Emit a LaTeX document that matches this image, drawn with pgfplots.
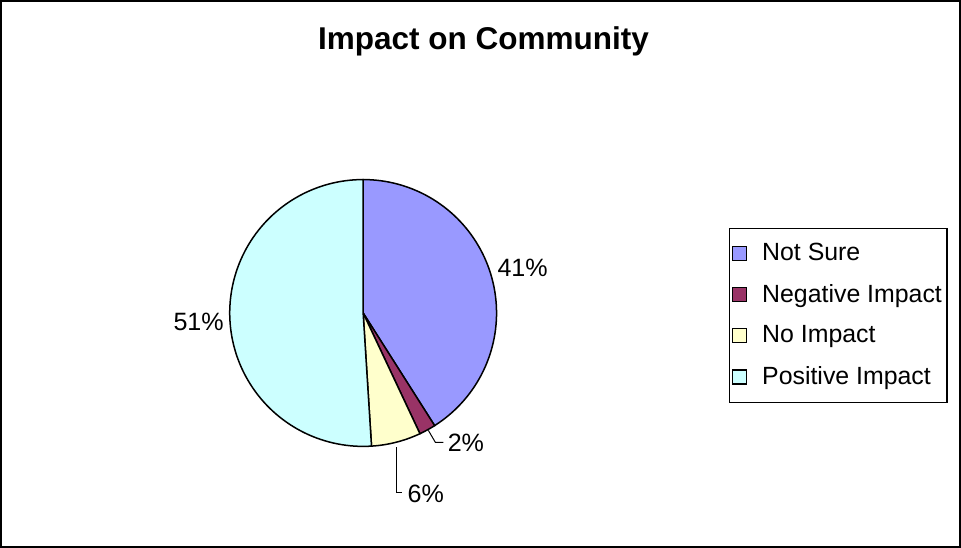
\documentclass[border=0pt]{standalone}
\usepackage{fontspec}
\setmainfont{Liberation Sans}
\usepackage{pgfplots}
\usepackage{pgfplotstable}
\pgfplotsset{compat=1.18}
\definecolor{cNS}{HTML}{9999FF}
\definecolor{cNeg}{HTML}{993366}
\definecolor{cNo}{HTML}{FFFFCC}
\definecolor{cPos}{HTML}{CCFFFF}
\pgfplotstableread{
value
41
2
6
51
}\pietable
\begin{document}
\begin{tikzpicture}
\pgfplotstablegetelem{0}{value}\of\pietable \pgfmathsetmacro{\vA}{\pgfplotsretval}
\pgfplotstablegetelem{1}{value}\of\pietable \pgfmathsetmacro{\vB}{\pgfplotsretval}
\pgfplotstablegetelem{2}{value}\of\pietable \pgfmathsetmacro{\vC}{\pgfplotsretval}
\pgfplotstablegetelem{3}{value}\of\pietable \pgfmathsetmacro{\vD}{\pgfplotsretval}
\pgfmathsetmacro{\aA}{0}
\pgfmathsetmacro{\bA}{3.6*\vA}
\pgfmathsetmacro{\bB}{\bA+3.6*\vB}
\pgfmathsetmacro{\bC}{\bB+3.6*\vC}
\pgfmathsetmacro{\bD}{\bC+3.6*\vD}
\begin{axis}[
  width=480.5pt, height=274pt, scale only axis,
  xmin=0, xmax=961, ymin=0, ymax=548,
  hide axis, clip=false,
  legend style={at={(axis cs:728,320)}, anchor=north west, draw=black, line width=0.6pt,
    font=\fontsize{12.4}{15}\selectfont, inner xsep=1pt, inner ysep=6.3pt,
    row sep=8.3pt, nodes={inner xsep=1.5pt, inner ysep=1pt},
    /tikz/every odd column/.append style={column sep=6pt}},
  legend cell align=left,
  legend image code/.code={\draw[#1, line width=0.6pt] (0pt,-3.5pt) rectangle (7pt,3.5pt);},
]
\addplot[fill=cNS, draw=black, line width=0.75pt, domain=\aA:\bA, samples=80] ({363+133*sin(x)},{235+133*cos(x)}) -- (axis cs:363,235) -- cycle;
\addplot[fill=cNeg, draw=black, line width=0.75pt, domain=\bA:\bB, samples=10] ({363+133*sin(x)},{235+133*cos(x)}) -- (axis cs:363,235) -- cycle;
\addplot[fill=cNo, draw=black, line width=0.75pt, domain=\bB:\bC, samples=20] ({363+133*sin(x)},{235+133*cos(x)}) -- (axis cs:363,235) -- cycle;
\addplot[fill=cPos, draw=black, line width=0.75pt, domain=\bC:\bD, samples=100] ({363+133*sin(x)},{235+133*cos(x)}) -- (axis cs:363,235) -- cycle;
\legend{Not Sure, Negative Impact, No Impact, Positive Impact}
\draw[black, line width=1pt] (axis cs:2,2) rectangle (axis cs:958,546);
\node[font=\fontsize{15.7}{18}\bfseries\selectfont] at (axis cs:483,506) {Impact on Community};
\node[font=\fontsize{12.5}{15}\selectfont] at (axis cs:522,280) {41\%};
\node[font=\fontsize{12.5}{15}\selectfont] at (axis cs:199,226) {51\%};
\node[font=\fontsize{12.5}{15}\selectfont, anchor=west, inner sep=0pt] at (axis cs:447,106) {2\%};
\node[font=\fontsize{12.5}{15}\selectfont, anchor=west, inner sep=0pt] at (axis cs:407,55) {6\%};
\draw[black, line width=0.5pt] (axis cs:428,118) -- (axis cs:435,106) -- (axis cs:443,106);
\draw[black, line width=0.5pt] (axis cs:396,101) -- (axis cs:396,56) -- (axis cs:402,56);
\end{axis}
\end{tikzpicture}
\end{document}
